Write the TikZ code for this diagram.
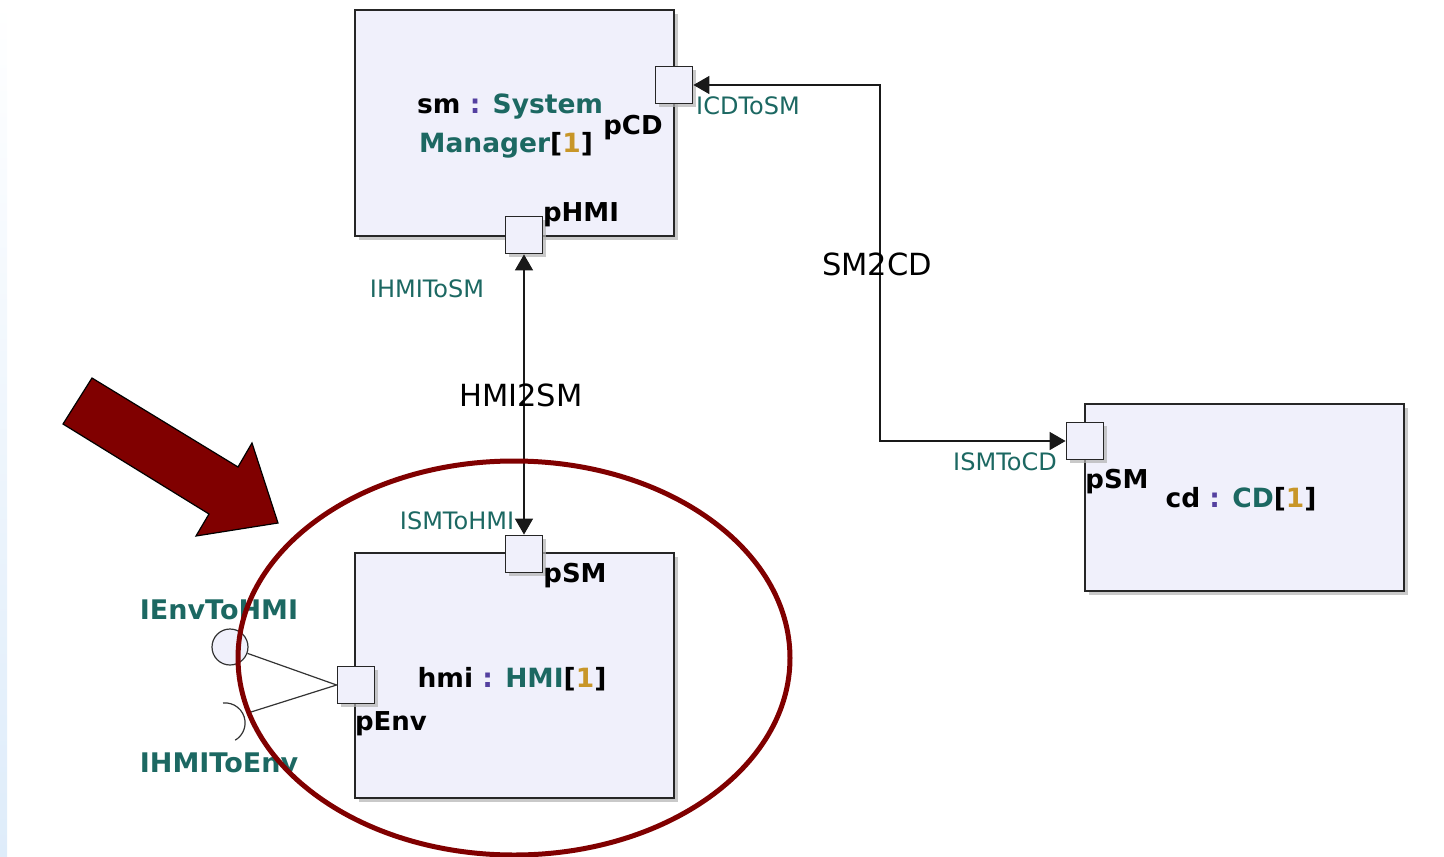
\documentclass[tikz,border=0pt]{standalone}
\usepackage{fontspec}
\setmainfont{DejaVu Sans}
\usetikzlibrary{arrows.meta,shadows}
\definecolor{tealtx}{RGB}{28,104,98}
\definecolor{colon}{RGB}{84,64,160}
\definecolor{mult}{RGB}{200,150,40}
\definecolor{boxfill}{RGB}{240,240,251}
\definecolor{hred}{RGB}{128,0,0}
\definecolor{stripblue}{RGB}{222,236,250}
\tikzset{
  block/.style={draw=black!85, line width=1.8pt, fill=boxfill, inner sep=0pt,
    drop shadow={shadow xshift=4pt, shadow yshift=-4pt, fill=black!30, opacity=0.7}},
  port/.style={draw=black!85, line width=1.8pt, fill=boxfill, minimum size=37pt, inner sep=0pt,
    drop shadow={shadow xshift=3pt, shadow yshift=-3pt, fill=black!30, opacity=0.7}},
  conn/.style={draw=black!90, line width=1.5pt, >={Triangle[length=16pt,width=18pt]}},
  ifc/.style={text=tealtx, font=\fontsize{24}{26}\selectfont, inner sep=0pt},
  ifcb/.style={text=tealtx, font=\bfseries\fontsize{27}{29}\selectfont, inner sep=0pt},
  plabel/.style={text=black, font=\bfseries\fontsize{26}{28}\selectfont, inner sep=0pt},
  clabel/.style={text=black, font=\fontsize{30.5}{32}\selectfont, inner sep=0pt},
  title/.style={font=\bfseries\fontsize{26.5}{28}\selectfont, inner sep=0pt},
  ring/.style={draw=hred, line width=5pt},
}
\newcommand{\tl}[1]{\textcolor{tealtx}{#1}}
\begin{document}
\begin{tikzpicture}[x=1pt,y=-1pt]
\useasboundingbox (0,0) rectangle (1444,857);
\shade[top color=white, bottom color=stripblue] (0,0) rectangle (7,857);

% blocks
\node[block, minimum width=319pt, minimum height=226pt] (sm) at (514.5,123) {};
\node[block, minimum width=319pt, minimum height=245pt] (hmi) at (514.5,675.5) {};
\node[block, minimum width=319pt, minimum height=187pt] (cd) at (1244.5,497.5) {};

% ports
\node[port] (pCD) at (674,85) {};
\node[port] (pHMI) at (524,235) {};
\node[port] (pSM) at (524,554) {};
\node[port] (pEnv) at (356,685) {};
\node[port] (pSMcd) at (1085,441) {};

% titles
\node[title, anchor=west] (smt1) at (417,107) {sm \textcolor{colon}{:} \tl{System}};
\node[title, anchor=west] (smt2) at (419,145) {\tl{Manager}[\textcolor{mult}{1}]};
\node[title] (hmit) at (512,679) {hmi \textcolor{colon}{:} \tl{HMI}[\textcolor{mult}{1}]};
\node[title] (cdt) at (1241,499) {cd \textcolor{colon}{:} \tl{CD}[\textcolor{mult}{1}]};

% port labels
\node[plabel] (lpCD) at (633,128) {pCD};
\node[plabel] (lpHMI) at (581,215) {pHMI};
\node[plabel] (lpSM) at (575,576) {pSM};
\node[plabel] (lpEnv) at (391,724) {pEnv};
\node[plabel] (lpSMcd) at (1117,482) {pSM};

% connectors
\coordinate (b1) at (880,85);
\coordinate (b2) at (880,441);
\draw[conn, <->] (pCD.east) -- (b1) -- (b2) -- (pSMcd.west);
\draw[conn, <->] (pHMI.south) -- (pSM.north);

\node[clabel] (sm2cd) at (877,264) {SM2CD};
\node[clabel] (hmi2sm) at (521,395) {HMI2SM};

% interface labels
\node[ifc] (icdtosm) at (748,106) {ICDToSM};
\node[ifc] (ihmitosm) at (427,289) {IHMIToSM};
\node[ifc] (ismtohmi) at (457,521) {ISMToHMI};
\node[ifc] (ismtocd) at (1005,462) {ISMToCD};
\node[ifcb] (ienvtohmi) at (219,610) {IEnvToHMI};
\node[ifcb] (ihmitoenv) at (219,763) {IHMIToEnv};

% lollipop and socket
\node[draw=black!80, line width=1.2pt, fill=boxfill, circle, minimum size=36pt, inner sep=0pt] (lolli) at (230,647) {};
\coordinate (sockend) at (251,712);
\draw[draw=black!80, line width=1.2pt] (223,703) arc[start angle=-96, end angle=60, radius=20];
\draw[draw=black!80, line width=1.2pt] (lolli.-20) -- (pEnv.west);
\draw[draw=black!80, line width=1.2pt] (sockend) -- (pEnv.west);

% highlight
\draw[ring] (514,658) ellipse [x radius=276, y radius=197];
\draw[fill=hred, draw=black, line width=1.2pt]
  (92,378) -- (238,467) -- (252,443) -- (278,523) -- (196,536) -- (209,514) -- (63,424) -- cycle;
\end{tikzpicture}
\end{document}
